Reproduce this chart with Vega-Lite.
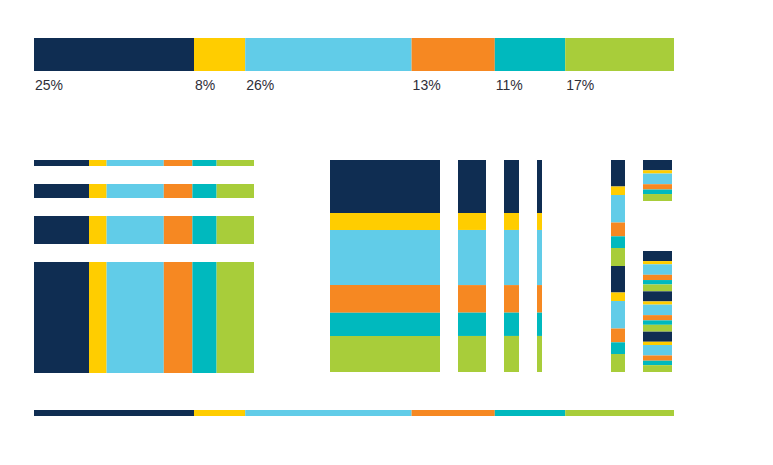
{
  "$schema": "https://vega.github.io/schema/vega-lite/v6.json",
  "background": "white",
  "padding": {"left": 34, "top": 38, "right": 0, "bottom": 0},
  "config": {"view": {"stroke": null}, "axis": {"disable": true}, "legend": {"disable": true}},
  "datasets": {
    "shares": [
      {"cat": "A", "share": 0.25, "rank": 1},
      {"cat": "B", "share": 0.08, "rank": 2},
      {"cat": "C", "share": 0.26, "rank": 3},
      {"cat": "D", "share": 0.13, "rank": 4},
      {"cat": "E", "share": 0.11, "rank": 5},
      {"cat": "F", "share": 0.17, "rank": 6}
    ],
    "shares2": [
      {"copy": 1, "cat": "A", "share": 0.25, "rank": 1},
      {"copy": 1, "cat": "B", "share": 0.08, "rank": 2},
      {"copy": 1, "cat": "C", "share": 0.26, "rank": 3},
      {"copy": 1, "cat": "D", "share": 0.13, "rank": 4},
      {"copy": 1, "cat": "E", "share": 0.11, "rank": 5},
      {"copy": 1, "cat": "F", "share": 0.17, "rank": 6},
      {"copy": 2, "cat": "A", "share": 0.25, "rank": 1},
      {"copy": 2, "cat": "B", "share": 0.08, "rank": 2},
      {"copy": 2, "cat": "C", "share": 0.26, "rank": 3},
      {"copy": 2, "cat": "D", "share": 0.13, "rank": 4},
      {"copy": 2, "cat": "E", "share": 0.11, "rank": 5},
      {"copy": 2, "cat": "F", "share": 0.17, "rank": 6}
    ],
    "shares3": [
      {"copy": 1, "cat": "A", "share": 0.25, "rank": 1},
      {"copy": 1, "cat": "B", "share": 0.08, "rank": 2},
      {"copy": 1, "cat": "C", "share": 0.26, "rank": 3},
      {"copy": 1, "cat": "D", "share": 0.13, "rank": 4},
      {"copy": 1, "cat": "E", "share": 0.11, "rank": 5},
      {"copy": 1, "cat": "F", "share": 0.17, "rank": 6},
      {"copy": 2, "cat": "A", "share": 0.25, "rank": 1},
      {"copy": 2, "cat": "B", "share": 0.08, "rank": 2},
      {"copy": 2, "cat": "C", "share": 0.26, "rank": 3},
      {"copy": 2, "cat": "D", "share": 0.13, "rank": 4},
      {"copy": 2, "cat": "E", "share": 0.11, "rank": 5},
      {"copy": 2, "cat": "F", "share": 0.17, "rank": 6},
      {"copy": 3, "cat": "A", "share": 0.25, "rank": 1},
      {"copy": 3, "cat": "B", "share": 0.08, "rank": 2},
      {"copy": 3, "cat": "C", "share": 0.26, "rank": 3},
      {"copy": 3, "cat": "D", "share": 0.13, "rank": 4},
      {"copy": 3, "cat": "E", "share": 0.11, "rank": 5},
      {"copy": 3, "cat": "F", "share": 0.17, "rank": 6}
    ]
  },
  "spacing": 67,
  "vconcat": [
    {
      "width": 640,
      "height": 33,
      "data": {"name": "shares"},
      "transform": [{"stack": "share", "groupby": [], "sort": [{"field": "rank"}], "as": ["s0", "s1"]}],
      "layer": [
        {
          "mark": {"type": "rect"},
          "encoding": {
            "x": {"field": "s0", "type": "quantitative", "scale": {"domain": [0, 1], "nice": false, "zero": false}, "axis": null},
            "x2": {"field": "s1"},
            "color": {"field": "cat", "type": "nominal", "scale": {"domain": ["A", "B", "C", "D", "E", "F"], "range": ["#0f2d52", "#ffcd00", "#61cce8", "#f68822", "#00b9be", "#a8cd3a"]}, "legend": null}
          }
        },
        {
          "mark": {"type": "text", "align": "left", "baseline": "middle", "dx": 1, "dy": 31, "font": "Liberation Sans", "fontSize": 14, "color": "#2e2e38"},
          "encoding": {
            "x": {"field": "s0", "type": "quantitative", "scale": {"domain": [0, 1], "nice": false, "zero": false}, "axis": null},
            "text": {"field": "share", "type": "quantitative", "format": ".0%"}
          }
        }
      ]
    },
    {
      "spacing": 37,
      "vconcat": [
        {
          "spacing": 76,
          "hconcat": [
            {
              "spacing": 18,
              "vconcat": [
                {"width": 220, "height": 6, "data": {"name": "shares"},
                 "transform": [{"stack": "share", "groupby": [], "sort": [{"field": "rank"}], "as": ["s0", "s1"]}],
                 "mark": {"type": "rect"},
                 "encoding": {
                   "x": {"field": "s0", "type": "quantitative", "scale": {"domain": [0, 1], "nice": false, "zero": false}, "axis": null},
                   "x2": {"field": "s1"},
                   "color": {"field": "cat", "type": "nominal", "scale": {"domain": ["A", "B", "C", "D", "E", "F"], "range": ["#0f2d52", "#ffcd00", "#61cce8", "#f68822", "#00b9be", "#a8cd3a"]}, "legend": null}
                 }},
                {"width": 220, "height": 14, "data": {"name": "shares"},
                 "transform": [{"stack": "share", "groupby": [], "sort": [{"field": "rank"}], "as": ["s0", "s1"]}],
                 "mark": {"type": "rect"},
                 "encoding": {
                   "x": {"field": "s0", "type": "quantitative", "scale": {"domain": [0, 1], "nice": false, "zero": false}, "axis": null},
                   "x2": {"field": "s1"},
                   "color": {"field": "cat", "type": "nominal", "scale": {"domain": ["A", "B", "C", "D", "E", "F"], "range": ["#0f2d52", "#ffcd00", "#61cce8", "#f68822", "#00b9be", "#a8cd3a"]}, "legend": null}
                 }},
                {"width": 220, "height": 28, "data": {"name": "shares"},
                 "transform": [{"stack": "share", "groupby": [], "sort": [{"field": "rank"}], "as": ["s0", "s1"]}],
                 "mark": {"type": "rect"},
                 "encoding": {
                   "x": {"field": "s0", "type": "quantitative", "scale": {"domain": [0, 1], "nice": false, "zero": false}, "axis": null},
                   "x2": {"field": "s1"},
                   "color": {"field": "cat", "type": "nominal", "scale": {"domain": ["A", "B", "C", "D", "E", "F"], "range": ["#0f2d52", "#ffcd00", "#61cce8", "#f68822", "#00b9be", "#a8cd3a"]}, "legend": null}
                 }},
                {"width": 220, "height": 111, "data": {"name": "shares"},
                 "transform": [{"stack": "share", "groupby": [], "sort": [{"field": "rank"}], "as": ["s0", "s1"]}],
                 "mark": {"type": "rect"},
                 "encoding": {
                   "x": {"field": "s0", "type": "quantitative", "scale": {"domain": [0, 1], "nice": false, "zero": false}, "axis": null},
                   "x2": {"field": "s1"},
                   "color": {"field": "cat", "type": "nominal", "scale": {"domain": ["A", "B", "C", "D", "E", "F"], "range": ["#0f2d52", "#ffcd00", "#61cce8", "#f68822", "#00b9be", "#a8cd3a"]}, "legend": null}
                 }}
              ]
            },
            {
              "spacing": 69,
              "hconcat": [
                {
                  "spacing": 18,
                  "hconcat": [
                    {"width": 110, "height": 212, "data": {"name": "shares"},
                     "transform": [{"stack": "share", "groupby": [], "sort": [{"field": "rank"}], "as": ["s0", "s1"]}],
                     "mark": {"type": "rect"},
                     "encoding": {
                       "y": {"field": "s0", "type": "quantitative", "scale": {"domain": [0, 1], "nice": false, "zero": false, "reverse": true}, "axis": null},
                       "y2": {"field": "s1"},
                       "color": {"field": "cat", "type": "nominal", "scale": {"domain": ["A", "B", "C", "D", "E", "F"], "range": ["#0f2d52", "#ffcd00", "#61cce8", "#f68822", "#00b9be", "#a8cd3a"]}, "legend": null}
                     }},
                    {"width": 28, "height": 212, "data": {"name": "shares"},
                     "transform": [{"stack": "share", "groupby": [], "sort": [{"field": "rank"}], "as": ["s0", "s1"]}],
                     "mark": {"type": "rect"},
                     "encoding": {
                       "y": {"field": "s0", "type": "quantitative", "scale": {"domain": [0, 1], "nice": false, "zero": false, "reverse": true}, "axis": null},
                       "y2": {"field": "s1"},
                       "color": {"field": "cat", "type": "nominal", "scale": {"domain": ["A", "B", "C", "D", "E", "F"], "range": ["#0f2d52", "#ffcd00", "#61cce8", "#f68822", "#00b9be", "#a8cd3a"]}, "legend": null}
                     }},
                    {"width": 15, "height": 212, "data": {"name": "shares"},
                     "transform": [{"stack": "share", "groupby": [], "sort": [{"field": "rank"}], "as": ["s0", "s1"]}],
                     "mark": {"type": "rect"},
                     "encoding": {
                       "y": {"field": "s0", "type": "quantitative", "scale": {"domain": [0, 1], "nice": false, "zero": false, "reverse": true}, "axis": null},
                       "y2": {"field": "s1"},
                       "color": {"field": "cat", "type": "nominal", "scale": {"domain": ["A", "B", "C", "D", "E", "F"], "range": ["#0f2d52", "#ffcd00", "#61cce8", "#f68822", "#00b9be", "#a8cd3a"]}, "legend": null}
                     }},
                    {"width": 5, "height": 212, "data": {"name": "shares"},
                     "transform": [{"stack": "share", "groupby": [], "sort": [{"field": "rank"}], "as": ["s0", "s1"]}],
                     "mark": {"type": "rect"},
                     "encoding": {
                       "y": {"field": "s0", "type": "quantitative", "scale": {"domain": [0, 1], "nice": false, "zero": false, "reverse": true}, "axis": null},
                       "y2": {"field": "s1"},
                       "color": {"field": "cat", "type": "nominal", "scale": {"domain": ["A", "B", "C", "D", "E", "F"], "range": ["#0f2d52", "#ffcd00", "#61cce8", "#f68822", "#00b9be", "#a8cd3a"]}, "legend": null}
                     }}
                  ]
                },
                {
                  "spacing": 18,
                  "hconcat": [
                    {"width": 14, "height": 212, "data": {"name": "shares2"},
                     "transform": [{"stack": "share", "groupby": [], "sort": [{"field": "copy"}, {"field": "rank"}], "as": ["s0", "s1"]}],
                     "mark": {"type": "rect"},
                     "encoding": {
                       "y": {"field": "s0", "type": "quantitative", "scale": {"domain": [0, 2], "nice": false, "zero": false, "reverse": true}, "axis": null},
                       "y2": {"field": "s1"},
                       "color": {"field": "cat", "type": "nominal", "scale": {"domain": ["A", "B", "C", "D", "E", "F"], "range": ["#0f2d52", "#ffcd00", "#61cce8", "#f68822", "#00b9be", "#a8cd3a"]}, "legend": null}
                     }},
                    {
                      "spacing": 50,
                      "vconcat": [
                        {"width": 29, "height": 41, "data": {"name": "shares"},
                         "transform": [{"stack": "share", "groupby": [], "sort": [{"field": "rank"}], "as": ["s0", "s1"]}],
                         "mark": {"type": "rect"},
                         "encoding": {
                           "y": {"field": "s0", "type": "quantitative", "scale": {"domain": [0, 1], "nice": false, "zero": false, "reverse": true}, "axis": null},
                           "y2": {"field": "s1"},
                           "color": {"field": "cat", "type": "nominal", "scale": {"domain": ["A", "B", "C", "D", "E", "F"], "range": ["#0f2d52", "#ffcd00", "#61cce8", "#f68822", "#00b9be", "#a8cd3a"]}, "legend": null}
                         }},
                        {"width": 29, "height": 121, "data": {"name": "shares3"},
                         "transform": [{"stack": "share", "groupby": [], "sort": [{"field": "copy"}, {"field": "rank"}], "as": ["s0", "s1"]}],
                         "mark": {"type": "rect"},
                         "encoding": {
                           "y": {"field": "s0", "type": "quantitative", "scale": {"domain": [0, 3], "nice": false, "zero": false, "reverse": true}, "axis": null},
                           "y2": {"field": "s1"},
                           "color": {"field": "cat", "type": "nominal", "scale": {"domain": ["A", "B", "C", "D", "E", "F"], "range": ["#0f2d52", "#ffcd00", "#61cce8", "#f68822", "#00b9be", "#a8cd3a"]}, "legend": null}
                         }}
                      ]
                    }
                  ]
                }
              ]
            }
          ]
        },
        {
          "width": 640,
          "height": 6,
          "data": {"name": "shares"},
          "transform": [{"stack": "share", "groupby": [], "sort": [{"field": "rank"}], "as": ["s0", "s1"]}],
          "mark": {"type": "rect"},
          "encoding": {
            "x": {"field": "s0", "type": "quantitative", "scale": {"domain": [0, 1], "nice": false, "zero": false}, "axis": null},
            "x2": {"field": "s1"},
            "color": {"field": "cat", "type": "nominal", "scale": {"domain": ["A", "B", "C", "D", "E", "F"], "range": ["#0f2d52", "#ffcd00", "#61cce8", "#f68822", "#00b9be", "#a8cd3a"]}, "legend": null}
          }
        }
      ]
    }
  ]
}
